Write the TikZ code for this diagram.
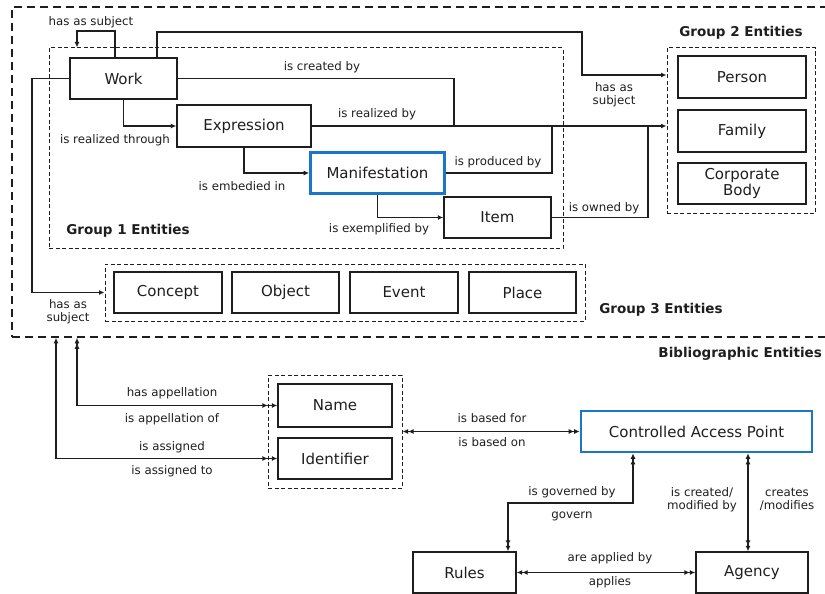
\documentclass[tikz,border=0pt]{standalone}
\usepackage{fontspec}
\setmainfont{DejaVu Sans}
\usetikzlibrary{arrows.meta,calc}
\definecolor{bluebox}{RGB}{25,118,200}
\definecolor{ink}{RGB}{30,30,30}
\tikzset{
 ent/.style={draw=ink, line width=1.3pt, rectangle, inner sep=0pt, text=ink, font=\fontsize{15}{16.5}\selectfont, align=center, minimum height=41pt},
 keyent/.style={ent, draw=bluebox, line width=2.6pt},
 grp/.style={draw=ink, line width=1pt, dash pattern=on 4pt off 2.5pt, rectangle, inner sep=0pt},
 frame/.style={draw=ink, line width=1.5pt, dash pattern=on 8pt off 5pt, rectangle, inner sep=0pt},
 lbl/.style={inner sep=0pt, text=ink, font=\fontsize{11.8}{13}\selectfont, align=center},
 ttl/.style={inner sep=0pt, text=ink, font=\bfseries\fontsize{13.5}{15}\selectfont},
 wire/.style={draw=ink, line width=1.2pt},
 arr/.style={wire, -{Latex[length=5.5pt,width=5pt]}},
 dbl/.style={wire, {Latex[length=5.5pt,width=5pt]Latex[length=5.5pt,width=5pt]}-{Latex[length=5.5pt,width=5pt]Latex[length=5.5pt,width=5pt]}},
 upsingle/.style={wire, {Latex[length=5.5pt,width=5pt]}-{Latex[length=5.5pt,width=5pt,sep=4pt]Latex[length=5.5pt,width=5pt]}},
 updouble/.style={wire, {Latex[length=5.5pt,width=5pt]Latex[length=5.5pt,width=5pt]}-{Latex[length=5.5pt,width=5pt,sep=4pt]Latex[length=5.5pt,width=5pt]}},
}
\begin{document}
\begin{tikzpicture}[x=1pt,y=-1pt]
\useasboundingbox (0,0) rectangle (825,594);

% outer frame
\node[frame, minimum width=815pt, minimum height=330pt] (bib) at (419.5,172) {};
\node[ttl, anchor=east] (tbib) at (822,354) {Bibliographic Entities};

% groups
\node[grp, minimum width=514pt, minimum height=200pt] (g1) at (306,148) {};
\node[grp, minimum width=148pt, minimum height=165pt] (g2) at (741,130.5) {};
\node[grp, minimum width=480pt, minimum height=57pt] (g3) at (345,292.5) {};
\node[grp, minimum width=134pt, minimum height=113pt] (g4) at (335,431.5) {};

\node[ttl] (t1) at (128,231) {Group 1 Entities};
\node[ttl] (t2) at (741,33) {Group 2 Entities};
\node[ttl] (t3) at (661,310) {Group 3 Entities};

% group 1
\node[ent, minimum width=107pt] (work) at (123.5,78.5) {Work};
\node[ent, minimum width=134pt, minimum height=42pt] (expr) at (244,126) {Expression};
\node[keyent, minimum width=134pt, minimum height=41pt] (manif) at (377.5,173) {Manifestation};
\node[ent, minimum width=107pt] (item) at (497.5,217.5) {Item};

% group 2
\node[ent, minimum width=128pt, minimum height=42pt] (person) at (742,77) {Person};
\node[ent, minimum width=128pt, minimum height=42pt] (family) at (742,131) {Family};
\node[ent, minimum width=128pt] (corp) at (742,183.5) {Corporate\\Body};

% group 3
\node[ent, minimum width=108pt] (concept) at (168,292.5) {Concept};
\node[ent, minimum width=107pt] (object) at (285.5,292.5) {Object};
\node[ent, minimum width=108pt] (event) at (404,292.5) {Event};
\node[ent, minimum width=107pt] (place) at (522.5,292.5) {Place};

% lower part
\node[ent, minimum width=114pt, minimum height=43pt] (namebox) at (335,405.5) {Name};
\node[ent, minimum width=114pt] (ident) at (335,458.5) {Identifier};
\node[keyent, minimum width=231pt] (cap) at (696.5,431.5) {Controlled Access Point};
\node[ent, minimum width=103pt] (rules) at (464.5,572.5) {Rules};
\node[ent, minimum width=112pt] (agency) at (752,572.5) {Agency};

% group 1 connectors
\draw[arr] (work.north -| 115,0) |- (77,31) -- (g1.north -| 77,0);
\node[lbl] (l1) at (91,22) {has as subject};

\draw[arr] (work.north -| 157,0) |- (582,32) |- (g2.west |- 0,75);
\node[lbl] (l2) at (614,95) {has as\\subject};

\draw[wire] (work.east) -| (454,126);
\node[lbl] (l3) at (322,67) {is created by};

\draw[arr] (expr.east) -- (g2.west |- expr.east);
\node[lbl] (l4) at (377,114) {is realized by};

\draw[wire] (manif.east) -| (552,126);
\node[lbl] (l5) at (498,162) {is produced by};

\draw[wire] (item.east) -| (648,126);
\node[lbl] (l6) at (604,208) {is owned by};

\draw[arr] (work.south) |- (expr.west);
\node[lbl] (l7) at (115,140) {is realized through};

\draw[arr] (expr.south) |- (manif.west);
\node[lbl] (l8) at (242,186) {is embedied in};

\draw[arr] (manif.south) |- (item.west);
\node[lbl] (l9) at (379,229) {is exemplified by};

\draw[arr] (work.west) -| (32,292.5) -- (g3.west);
\node[lbl] (l10) at (68,312) {has as\\subject};

% lower connectors
\draw[updouble] (bib.south -| 77,0) |- (namebox.west);
\node[lbl] (l11) at (172,393) {has appellation};
\node[lbl] (l12) at (172,419) {is appellation of};

\draw[upsingle] (bib.south -| 56,0) |- (ident.west);
\node[lbl] (l13) at (172,447) {is assigned};
\node[lbl] (l14) at (172,471) {is assigned to};

\draw[dbl] (g4.east) -- (cap.west);
\node[lbl] (l15) at (492,418) {is based for};
\node[lbl] (l16) at (492,442) {is based on};

\draw[dbl] (cap.south -| 633,0) |- (508,503) -- (rules.north -| 508,0);
\node[lbl] (l17) at (572,492) {is governed by};
\node[lbl] (l18) at (572,516) {govern};

\draw[dbl] (cap.south -| 748,0) -- (agency.north -| 748,0);
\node[lbl] (l19) at (702,499.5) {is created/\\modified by};
\node[lbl] (l20) at (787,499.5) {creates\\/modifies};

\draw[dbl] (rules.east) -- (agency.west);
\node[lbl] (l21) at (610,558) {are applied by};
\node[lbl] (l22) at (610,582) {applies};
\end{tikzpicture}
\end{document}
